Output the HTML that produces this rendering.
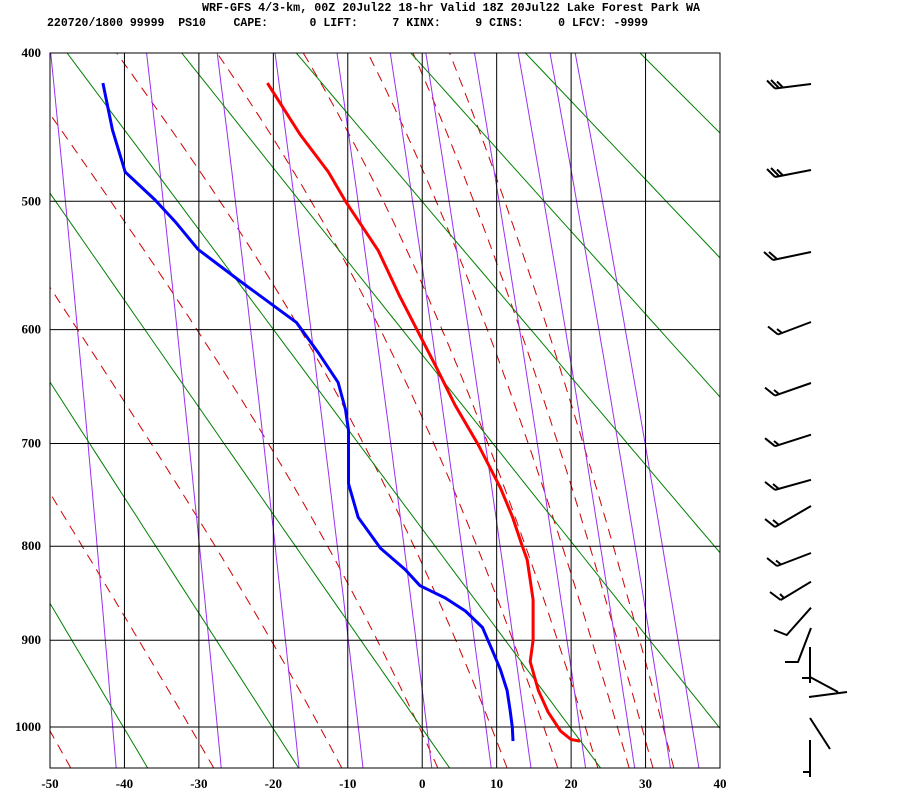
<!DOCTYPE html>
<html><head><meta charset="utf-8"><style>
html,body{margin:0;padding:0;background:#fff;}
svg{display:block;}
.hdr{font-family:"Liberation Mono",monospace;font-weight:bold;font-size:12px;fill:#000;}
.lbl{font-family:"Liberation Serif",serif;font-weight:bold;font-size:13px;fill:#000;}
</style></head><body>
<svg id="chart" width="900" height="800" viewBox="0 0 900 800" xmlns="http://www.w3.org/2000/svg">
<text class="hdr" x="202" y="11" textLength="498" lengthAdjust="spacingAndGlyphs">WRF-GFS 4/3-km, 00Z 20Jul22 18-hr Valid 18Z 20Jul22 Lake Forest Park WA</text>
<text class="hdr" x="47" y="26" textLength="601" lengthAdjust="spacingAndGlyphs" xml:space="preserve">220720/1800 99999  PS10    CAPE:      0 LIFT:     7 KINX:     9 CINS:     0 LFCV: -9999</text>
<defs><clipPath id="plotclip"><rect x="50" y="53" width="670" height="715"/></clipPath></defs>
<g id="bg" clip-path="url(#plotclip)"></g>
<g id="grid"></g>
<g id="data" clip-path="url(#plotclip)"></g>
<g id="labels"></g>
<g id="barbs" stroke="#000" stroke-width="2" fill="none" stroke-linecap="butt">
<path d="M811,84 L775,88.5 M775,88.5 l-8,-8 M779,88 l-8,-8 M783,87.5 l-6,-6"/>
<path d="M811,170 L775,177 M775,177 l-8,-8 M779,176 l-8,-8 M783,175.5 l-6,-6"/>
<path d="M811,252 L773,260 M773,260 l-9,-8 M777,259 l-8,-7"/>
<path d="M811,322 L778,334.5 M778,334.5 l-10,-8 M782,333 l-5,-4"/>
<path d="M811,383 L775,395.6 M775,395.6 l-10,-8 M779,394 l-5,-4"/>
<path d="M811,434.7 L775,446.2 M775,446.2 l-10,-8 M779,445 l-5,-4"/>
<path d="M811,479.8 L775,489.9 M775,489.9 l-10,-8 M779,489 l-6,-5"/>
<path d="M811,506 L775,527 M775,527 l-10,-8 M779,525 l-6,-5"/>
<path d="M811,553 L777,566 M777,566 l-10,-8 M781,564.5 l-5,-4"/>
<path d="M811,581.7 L780.7,600 M780.7,600 l-10.7,-8 M784,598 l-4,-4"/>
<path d="M811,607.7 L786.7,635 l-12.7,-5"/>
<path d="M811,628 L798,662 l-13,0"/>
<path d="M810,647 L810,683 M802,678 L810,678 M810,677 L838,692 M809,697 L847,692"/>
<path d="M810,718 L830,749"/>
<path d="M810,740 L810,777 M803,772 L810,772"/>
</g>
<script>
// ---- chart data ----
var tempP = [1017,1015,1005,982,957,924,900,856,835,814,799,770,742,701,665,632,605,573,537,500,479,453,419];
var tempT = [21.2,20.0,18.6,16.9,15.6,14.5,14.9,14.9,14.5,14.1,13.4,12.1,10.5,7.5,4.4,1.9,-0.3,-3.0,-5.9,-10.3,-12.6,-16.4,-20.8];
var dewP = [1017,1000,980,957,933,911,886,868,854,841,824,802,771,738,701,688,669,645,619,594,561,536,515,499,479,450,419];
var dewT = [12.2,12.1,11.8,11.4,10.5,9.4,8.1,5.8,3.1,-0.3,-2.3,-5.6,-8.6,-9.9,-9.9,-9.9,-10.3,-11.3,-14.0,-16.9,-24.4,-30.1,-33.2,-35.9,-39.9,-41.6,-42.9];
var isobars = [400,500,600,700,800,900,1000];
var tempTicks = [-50,-40,-30,-20,-10,0,10,20,30,40];
var dryTheta = [213,233,253,273,293,313,333,353,373,393,413];
var moistStart1050 = [-47.2,-28,-10.8,2.1,11.4,18.2,23.6,27.8,31,33.8];
var mixRatios = [0.1,0.4,1,2,4,7,10,16,24,32,40];

var NS="http://www.w3.org/2000/svg", K=0.286;
var P0=Math.pow(400,K), P1=Math.pow(1000,K);
function X(t){return 50+(t+50)*670/90;}
function Y(p){return 53+674*(Math.pow(p,K)-P0)/(P1-P0);}
function es(tc){return 6.112*Math.exp(17.67*tc/(tc+243.5));}
function mk(tag,parent){var e=document.createElementNS(NS,tag);document.getElementById(parent).appendChild(e);return e;}
function poly(pts,parent,stroke,w,dash){
  var e=mk('polyline',parent);
  e.setAttribute('points',pts.map(function(q){return q[0].toFixed(1)+','+q[1].toFixed(1);}).join(' '));
  e.setAttribute('fill','none');e.setAttribute('stroke',stroke);e.setAttribute('stroke-width',w);
  if(dash)e.setAttribute('stroke-dasharray',dash);
  return e;
}
// moist adiabats
moistStart1050.forEach(function(t0){
  var T=t0+273.15,p=1050,pts=[[X(t0),Y(p)]];
  function dTdp(T,p){var e=es(T-273.15),ws=0.622*e/(p-e);return (287*T+2.5e6*ws)/(p*(1005+2.5e6*2.5e6*ws*0.622/(287*T*T)));}
  while(p>380){var dp=-2;var k1=dTdp(T,p);var k2=dTdp(T+k1*dp,p+dp);T+=0.5*(k1+k2)*dp;p+=dp;pts.push([X(T-273.15),Y(p)]);}
  var e=poly(pts,'bg','#d00000',1,'10 7');
  
  
});
// mixing ratio lines
mixRatios.forEach(function(w){
  var pts=[];
  for(var p=1050;p>=380;p-=10){var e=w*p/(622+w);var l=Math.log(e/6.112);var t=243.5*l/(17.67-l);pts.push([X(t),Y(p)]);}
  var el=poly(pts,'bg','#9a30f0',1);
  
  
});
// dry adiabats
dryTheta.forEach(function(th){
  var pts=[];
  for(var p=1050;p>=380;p-=10){pts.push([X(th*Math.pow(p/1000,K)-273.15),Y(p)]);}
  var el=poly(pts,'bg','#008000',1);
  
  
});
// grid
tempTicks.forEach(function(t){
  var l=mk('line','grid');
  l.setAttribute('x1',X(t));l.setAttribute('x2',X(t));l.setAttribute('y1',53);l.setAttribute('y2',768);
  l.setAttribute('stroke','#000');l.setAttribute('stroke-width',1);
  
  
  var tx=mk('text','labels');tx.setAttribute('class','lbl');tx.setAttribute('x',X(t));tx.setAttribute('y',788);tx.setAttribute('text-anchor','middle');tx.textContent=t;
  
  
});
isobars.forEach(function(p){
  var l=mk('line','grid');
  l.setAttribute('x1',50);l.setAttribute('x2',720);l.setAttribute('y1',Y(p));l.setAttribute('y2',Y(p));
  l.setAttribute('stroke','#000');l.setAttribute('stroke-width',1);
  
  
  var tx=mk('text','labels');tx.setAttribute('class','lbl');tx.setAttribute('x',41);tx.setAttribute('y',Y(p)+4);tx.setAttribute('text-anchor','end');tx.textContent=p;
  
  
});
var bb=mk('rect','grid');bb.setAttribute('x',50);bb.setAttribute('y',53);bb.setAttribute('width',670);bb.setAttribute('height',715);bb.setAttribute('fill','none');bb.setAttribute('stroke','#000');


// profiles
var tl=poly(tempP.map(function(p,i){return [X(tempT[i]),Y(p)];}),'data','#ff0000',3);
tl.setAttribute('stroke-linejoin','round');


var dl=poly(dewP.map(function(p,i){return [X(dewT[i]),Y(p)];}),'data','#0000ff',3);
dl.setAttribute('stroke-linejoin','round');


</script>
</svg>
</body></html>
